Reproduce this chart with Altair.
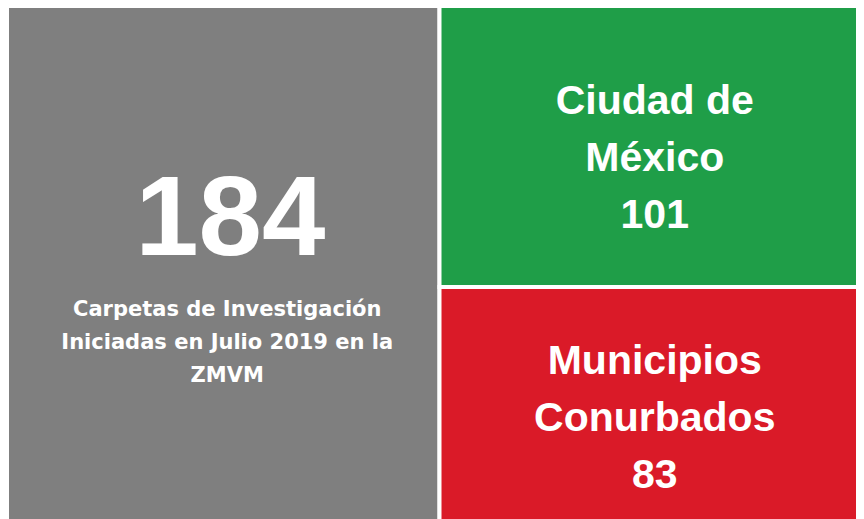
import altair as alt
import pandas as pd

# --- data -------------------------------------------------------------------
categories = ["ZMVM", "Ciudad de México", "Municipios Conurbados"]
values = [184, 101, 83]
columns = [0, 1, 1]  # treemap column of each cell
colors = ["#7f7f7f", "#1f9e48", "#da1a28"]
caption_lines = ["Carpetas de Investigación", "Iniciadas en Julio 2019 en la", "ZMVM"]
label_lines = {
    "Ciudad de México": ["Ciudad de", "México"],
    "Municipios Conurbados": ["Municipios", "Conurbados"],
}

# --- treemap layout (stack values inside each column) -----------------------
y0, y1, stack = [], [], {}
for c, v in zip(columns, values):
    s = stack.get(c, 0)
    y0.append(s)
    y1.append(s + v)
    stack[c] = s + v

cells = pd.DataFrame({
    "cat": categories,
    "value": values,
    "x0": columns,
    "x1": [c + 1 for c in columns],
    "y0": y0,
    "y1": y1,
    "xm": [c + 0.5 for c in columns],
    "ym": [(a + b) / 2 for a, b in zip(y0, y1)],
})
cells["label"] = [
    "\n".join(label_lines[c] + [str(v)]) if c in label_lines else "\n".join(caption_lines)
    for c, v in zip(categories, values)
]

xs = alt.Scale(domain=[0, 2], nice=False, zero=False)
ys = alt.Scale(domain=[0, sum(v for c, v in zip(columns, values) if c == 0)], nice=False, reverse=True)

base = alt.Chart(cells)

rects = base.mark_rect(stroke="white", strokeWidth=4).encode(
    x=alt.X("x0:Q", scale=xs, axis=None),
    x2="x1:Q",
    y=alt.Y("y0:Q", scale=ys, axis=None),
    y2="y1:Q",
    color=alt.Color("cat:N", scale=alt.Scale(domain=categories, range=colors), legend=None),
)

total_cells = base.transform_filter(alt.datum.x0 == 0)
side_cells = base.transform_filter(alt.datum.x0 == 1)

big_number = total_cells.mark_text(
    font="Liberation Sans", fontWeight="bold", fontSize=114, color="white",
    align="center", baseline="alphabetic", dx=7, dy=-7,
).encode(x=alt.X("xm:Q", scale=xs), y=alt.Y("ym:Q", scale=ys), text="value:Q")

caption = total_cells.mark_text(
    font="DejaVu Sans", fontWeight="bold", fontSize=21, lineHeight=33, lineBreak="\n",
    color="white", align="center", baseline="middle", dx=4, dy=48,
).encode(x=alt.X("xm:Q", scale=xs), y=alt.Y("ym:Q", scale=ys), text="label:N")

side_labels = side_cells.mark_text(
    font="Liberation Sans", fontWeight="bold", fontSize=41, lineHeight=57, lineBreak="\n",
    color="white", align="center", baseline="middle", dx=-1, dy=-42,
).encode(x=alt.X("xm:Q", scale=xs), y=alt.Y("ym:Q", scale=ys), text="label:N")

chart = (
    alt.layer(rects, big_number, caption, side_labels)
    .properties(
        width=865, height=521,
        autosize=alt.AutoSizeParams(type="none"),
        padding={"left": -1, "top": -7, "right": -16, "bottom": -3},
        background="white",
    )
    .configure_view(stroke=None)
)

chart.save("out.html", embed_options={"renderer": "svg", "actions": False})
